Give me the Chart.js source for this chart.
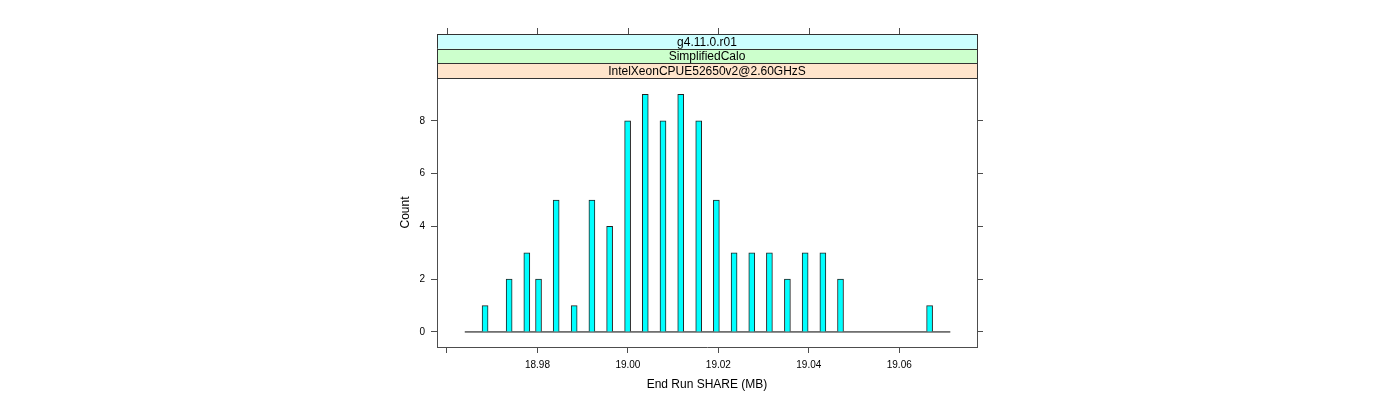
<!DOCTYPE html>
<html>
<head>
<meta charset="utf-8">
<script src="https://cdn.jsdelivr.net/npm/chart.js@4"></script>
<style>
  body { margin: 0; background: #fff; }
</style>
</head>
<body>
<canvas id="hist" width="1400" height="400"></canvas>
<script>
// data
const shareBins = [
  18.96842, 18.97374, 18.97765, 18.98024, 18.98414, 18.98812, 18.99204, 18.99596,
  18.99994, 19.00384, 19.00776, 19.01168, 19.01566, 19.01956, 19.02348, 19.02739,
  19.03129, 19.03527, 19.03919, 19.04311, 19.04701, 19.06671
];
const counts = [1, 2, 3, 2, 5, 1, 5, 4, 8, 9, 8, 9, 8, 5, 3, 3, 3, 2, 3, 3, 2, 1];
const histRange = [18.96393, 19.07129];
const shareTicks = [18.96, 18.98, 19.0, 19.02, 19.04, 19.06];
const shareTickLabels = ["", "18.98", "19.00", "19.02", "19.04", "19.06"];
const countTicks = [0, 2, 4, 6, 8];
const strips = ["g4.11.0.r01", "SimplifiedCalo", "IntelXeonCPUE52650v2@2.60GHzS"];

// colors
const cyan = "#00ffff";
const barStroke = "#222222";
const axisCol = "#4d4d4d";
const stripColors = ["#ccffff", "#ccffcc", "#ffe5cc"];
const font = "'Liberation Sans', Arial, sans-serif";

Chart.defaults.font.family = font;
Chart.defaults.color = "#000";

const stripPlugin = {
  id: "strips",
  afterDraw(chart) {
    const ctx = chart.ctx;
    const area = chart.chartArea;
    const h = 14.6;
    const top = area.top - h * strips.length;
    ctx.save();
    strips.forEach((txt, i) => {
      const y = top + i * h;
      ctx.fillStyle = stripColors[i];
      ctx.fillRect(area.left, y, area.right - area.left, h);
      ctx.strokeStyle = "#333";
      ctx.lineWidth = 1;
      ctx.strokeRect(Math.round(area.left) + 0.5, Math.round(y) + 0.5, Math.round(area.right - area.left), Math.round(h));
      ctx.fillStyle = "#000";
      ctx.font = "12px " + font;
      ctx.textAlign = "center";
      ctx.textBaseline = "middle";
      ctx.fillText(txt, (area.left + area.right) / 2, y + h / 2 + 1);
    });
    // top axis ticks sit above the strips
    const xs = chart.scales.x;
    ctx.strokeStyle = axisCol;
    ctx.beginPath();
    xs.ticks.forEach((t) => {
      const px = Math.round(xs.getPixelForValue(t.value)) + 0.5;
      ctx.moveTo(px, Math.round(top));
      ctx.lineTo(px, Math.round(top) - 6);
    });
    ctx.stroke();
    ctx.restore();
  },
};

const tickGrid = {
  display: true,
  drawOnChartArea: false,
  drawTicks: true,
  tickLength: 6,
  offset: false,
  color: axisCol,
};

new Chart(document.getElementById("hist"), {
  type: "bar",
  data: {
    datasets: [
      {
        type: "bar",
        data: shareBins.map((x, i) => ({ x: x, y: counts[i] })),
        backgroundColor: cyan,
        borderColor: barStroke,
        borderWidth: 1,
        barThickness: 6,
        order: 0,
      },
      {
        type: "line",
        data: histRange.map((x) => ({ x: x, y: 0 })),
        borderColor: "#000",
        borderWidth: 1,
        pointRadius: 0,
        order: 1,
      },
    ],
  },
  options: {
    responsive: false,
    animation: false,
    layout: {
      padding: { left: 394, right: 417, top: 78, bottom: 4 },
    },
    plugins: {
      legend: { display: false },
      tooltip: { enabled: false },
    },
    scales: {
      x: {
        type: "linear",
        offset: false,
        min: 18.95779,
        max: 19.07719,
        afterBuildTicks: (s) => {
          s.ticks = shareTicks.map((v) => ({ value: v }));
        },
        afterFit: (s) => {
          s.height = 49;
        },
        ticks: {
          callback: (v, i) => shareTickLabels[i],
          font: { size: 10 },
          padding: 6,
          maxRotation: 0,
          autoSkip: false,
        },
        grid: tickGrid,
        border: { display: true, color: axisCol },
        title: {
          display: true,
          text: "End Run SHARE (MB)",
          font: { size: 12 },
        },
      },
      y: {
        min: -0.57,
        max: 9.62,
        afterBuildTicks: (s) => {
          s.ticks = countTicks.map((v) => ({ value: v }));
        },
        afterFit: (s) => {
          s.width = 43;
        },
        ticks: {
          font: { size: 10 },
          padding: 6,
        },
        grid: tickGrid,
        border: { display: true, color: axisCol },
        title: {
          display: true,
          text: "Count",
          font: { size: 12 },
        },
      },
      y2: {
        position: "right",
        min: -0.57,
        max: 9.62,
        afterBuildTicks: (s) => {
          s.ticks = countTicks.map((v) => ({ value: v }));
        },
        afterFit: (s) => {
          s.width = 6;
        },
        ticks: { display: false },
        grid: tickGrid,
        border: { display: true, color: axisCol },
      },
    },
  },
  plugins: [stripPlugin],
});
</script>
</body>
</html>
